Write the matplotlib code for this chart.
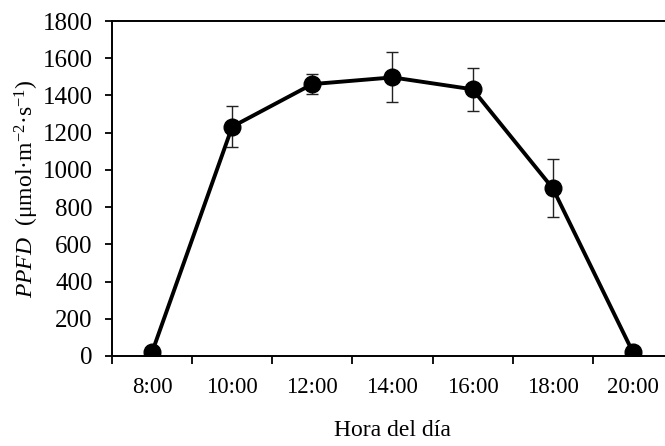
import matplotlib
matplotlib.use("Agg")
import matplotlib.pyplot as plt
import numpy as np

# Data
hours = ["8:00", "10:00", "12:00", "14:00", "16:00", "18:00", "20:00"]
ppfd = [20, 1232, 1461, 1497, 1433, 901, 20]
err_low = [0, 107, 55, 131, 117, 153, 0]
err_high = [0, 111, 56, 138, 116, 156, 0]

plt.rcParams['font.family'] = ['Liberation Serif', 'DejaVu Serif']
plt.rcParams['mathtext.fontset'] = 'custom'
plt.rcParams['mathtext.rm'] = 'Liberation Serif'
plt.rcParams['mathtext.it'] = 'Liberation Serif:italic'

fig = plt.figure(figsize=(6.65, 4.46), dpi=100)
ax = fig.add_axes([0.1684, 0.2018, 0.8436, 0.7511])

x = np.arange(len(hours))
ax.errorbar(x, ppfd, yerr=[err_low, err_high], fmt='none', ecolor='#222222',
            elinewidth=1, capsize=4, capthick=1, zorder=2)
ax.plot(x, ppfd, color='black', lw=2.8, marker='o', markersize=12, zorder=3)

ax.set_xlim(-0.5, len(hours) - 0.5)
ax.set_ylim(0, 1800)
ax.set_yticks(np.arange(0, 1801, 200))

# category labels at centres, tick marks between categories (Excel style)
ax.set_xticks(x)
ax.set_xticklabels(hours)
ax.set_xticks(np.arange(-0.5, len(hours), 1), minor=True)
ax.tick_params(axis='x', which='major', length=0, pad=15, labelsize=16.5)
ax.tick_params(axis='x', which='minor', length=6, width=1.3, direction='out')
ax.tick_params(axis='y', length=5, width=1.3, direction='out', pad=9, labelsize=18)

for side in ['left', 'bottom', 'top', 'right']:
    ax.spines[side].set_linewidth(1.4)

ax.set_xlabel("Hora del día", fontsize=17, labelpad=16)
ax.set_ylabel(r"$\it{PPFD}$  (μmol·m$^{-2}$·s$^{-1}$)", fontsize=17, labelpad=1)

fig.savefig("out.png", dpi=100)
